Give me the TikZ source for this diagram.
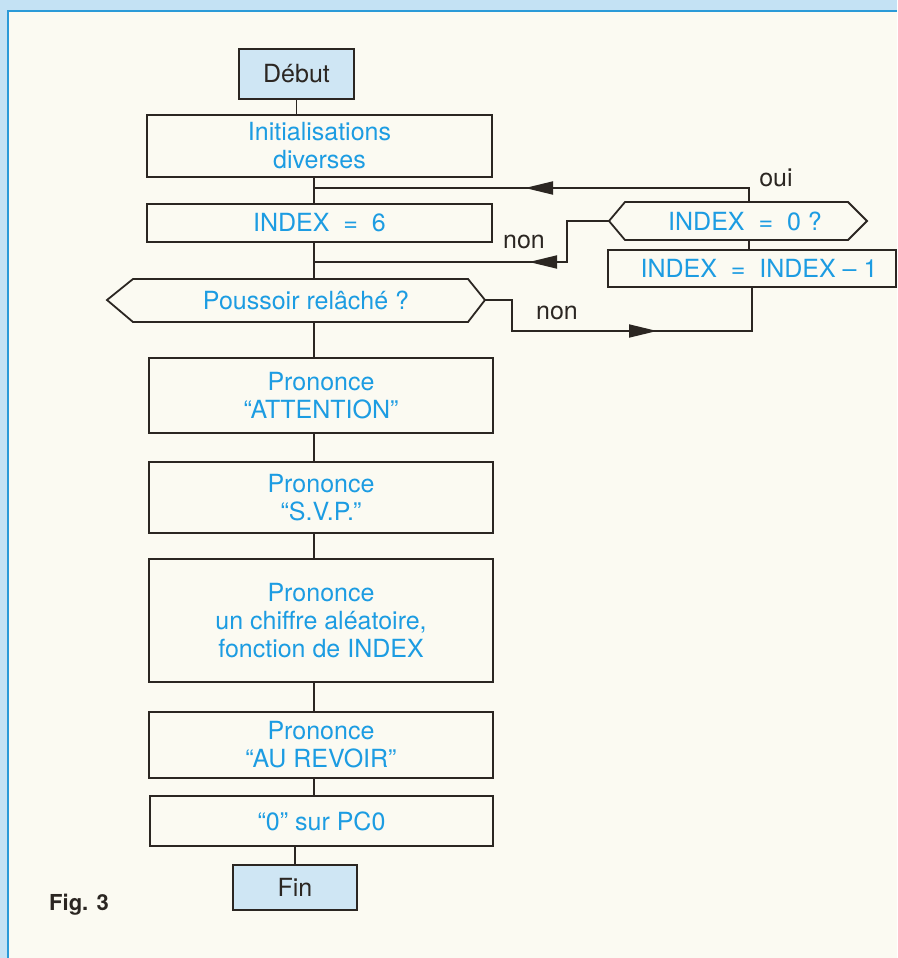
\documentclass[tikz,border=0pt]{standalone}
\usepackage{fontspec}
\setmainfont{TeX Gyre Heros}
\usetikzlibrary{arrows.meta}
\definecolor{bandblue}{HTML}{C4E2F4}
\definecolor{frameblue}{HTML}{2A9AD8}
\definecolor{paper}{HTML}{FBFAF2}
\definecolor{txtblue}{HTML}{1C9CE2}
\definecolor{ink}{HTML}{2B2622}
\definecolor{termfill}{HTML}{CFE6F4}
\begin{document}
\begin{tikzpicture}[x=1pt,y=-1pt,line width=1.8pt,
  box/.style={draw=ink,rectangle,inner sep=0pt,align=center,text=txtblue,font=\fontsize{25}{28}\selectfont},
  term/.style={box,fill=termfill,text=ink},
  lbl/.style={text=ink,font=\fontsize{25}{28}\selectfont,inner sep=0pt},
  btxt/.style={text=txtblue,font=\fontsize{25}{28}\selectfont,inner sep=0pt},
  tip/.style={-{Triangle[length=28pt,width=13pt]}},
  conn/.style={draw=ink}
]
\useasboundingbox (0,0) rectangle (897,958);
% background and frame
\fill[bandblue] (0,0) rectangle (897,958);
\fill[paper] (9,12) rectangle (897,958);
\draw[frameblue,line width=2pt] (8,958) -- (8,11) -- (897,11);

\coordinate (axis) at (314,0);

% main column
\node[term,minimum width=115pt,minimum height=50pt] (debut) at (296.5,74) {Début};
\node[box,minimum width=345pt,minimum height=62pt] (init) at (319.5,146) {Initialisations\\diverses};
\node[box,minimum width=345pt,minimum height=38pt] (idx6) at (319.5,223) {INDEX \ = \ 6};

% Poussoir hexagon
\draw[ink] (107,300) -- (133,279) -- (468,279) -- (485,300) -- (468,322) -- (133,322) -- cycle;
\node[btxt] (pous) at (306,300) {Poussoir relâché ?};
\coordinate (pousN) at (314,279);
\coordinate (pousS) at (314,322);
\coordinate (pousE) at (485,300);

\node[box,minimum width=344pt,minimum height=75pt] (att) at (321,395.5) {Prononce\\“ATTENTION”};
\node[box,minimum width=344pt,minimum height=71pt] (svp) at (321,497.5) {Prononce\\“S.V.P.”};
\node[box,minimum width=344pt,minimum height=123pt] (chif) at (321,620.5) {Prononce\\un chiffre aléatoire,\\fonction de INDEX};
\node[box,minimum width=344pt,minimum height=66pt] (aurev) at (321,745) {Prononce\\“AU REVOIR”};
\node[box,minimum width=343pt,minimum height=50pt] (pc0) at (321.5,821) {“0” sur PC0};
\node[term,minimum width=124pt,minimum height=45pt] (fin) at (295,887.5) {Fin};

% INDEX = 0 ? hexagon
\draw[ink] (609,221) -- (625,202) -- (848,202) -- (867,221) -- (848,240) -- (625,240) -- cycle;
\node[btxt] (hexz) at (745,221) {INDEX \ = \ 0 ?};
\coordinate (hexzN) at (749,202);
\coordinate (hexzS) at (749,240);
\coordinate (hexzW) at (609,221);

% decrement box
\node[box,minimum width=288pt,minimum height=37pt] (dec) at (752,268.5) {\hspace{14pt}INDEX \ = \ INDEX – 1};

% main connectors
\draw[conn] (debut.south) -- (debut.south |- init.north);
\draw[conn] (init.south -| axis) -- (idx6.north -| axis);
\draw[conn] (idx6.south -| axis) -- (pousN);
\draw[conn] (pousS) -- (att.north -| axis);
\draw[conn] (att.south -| axis) -- (svp.north -| axis);
\draw[conn] (svp.south -| axis) -- (chif.north -| axis);
\draw[conn] (chif.south -| axis) -- (aurev.north -| axis);
\draw[conn] (aurev.south -| axis) -- (pc0.north -| axis);
\draw[conn] (pc0.south -| fin.north) -- (fin.north);

% oui branch
\coordinate (ouiC) at (749,188);
\coordinate (ouiJ) at (314,188);
\coordinate (ouiA) at (525,188);
\draw[conn] (hexzN) -- (ouiC) -- (ouiJ);
\draw[conn,tip] (ouiC) -- (ouiA);
\node[lbl] (oui) at (776,178) {oui};

% non branch (INDEX = 0 ?)
\coordinate (nonK) at (567,221);
\coordinate (nonB) at (567,262);
\coordinate (nonJ) at (314,262);
\coordinate (nonA) at (529,262);
\draw[conn] (hexzW) -- (nonK) -- (nonB) -- (nonJ);
\draw[conn,tip] (nonB) -- (nonA);
\node[lbl] (non1) at (524,242) {non};

% hexagon to decrement
\draw[conn] (hexzS) -- (dec.north -| hexzS);

% non branch (Poussoir)
\coordinate (pK) at (512,300);
\coordinate (pB) at (512,331);
\coordinate (pC) at (752,331);
\coordinate (pA) at (657,331);
\draw[conn] (pousE) -- (pK) -- (pB) -- (pC) -- (dec.south -| pC);
\draw[conn,tip] (pB) -- (pA);
\node[lbl] (non2) at (557,313) {non};

% caption
\node[text=ink,font=\bfseries\fontsize{22}{24}\selectfont,inner sep=0pt] (fig) at (79,905) {Fig. 3};
\end{tikzpicture}
\end{document}
